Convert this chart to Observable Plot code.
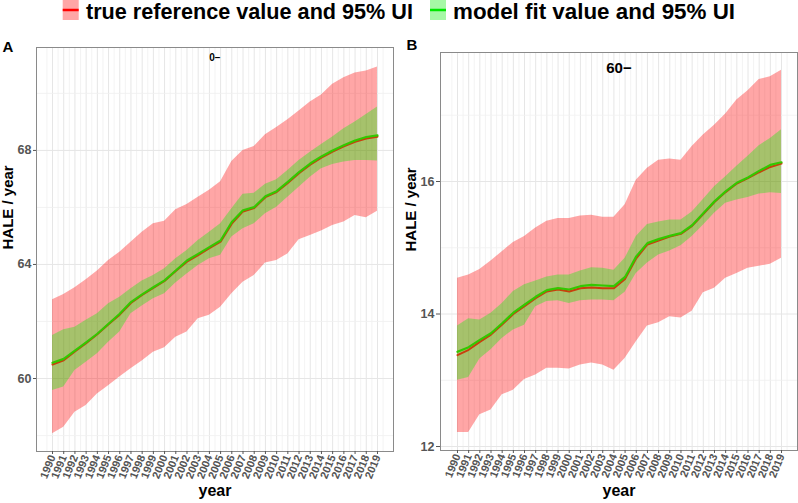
<!DOCTYPE html>
<html>
<head>
<meta charset="utf-8">
<script src="https://cdn.jsdelivr.net/npm/d3@7"></script>
<script src="https://cdn.jsdelivr.net/npm/@observablehq/plot@0.6"></script>
<style>
  html, body { margin: 0; padding: 0; background: white; }
  #wrap { position: relative; width: 798px; height: 503px; overflow: hidden; font-family: "Liberation Sans", Arial, sans-serif; }
  #legend { position: absolute; left: 0; top: 0; }
  #pa { position: absolute; left: 0; top: 30px; }
  #pb { position: absolute; left: 400px; top: 30px; }
</style>
</head>
<body>
<div id="wrap">
  <svg id="legend" width="798" height="30"></svg>
  <div id="pa"></div>
  <div id="pb"></div>
</div>
<script>
const years = [1990,1991,1992,1993,1994,1995,1996,1997,1998,1999,2000,2001,2002,2003,2004,2005,2006,2007,2008,2009,2010,2011,2012,2013,2014,2015,2016,2017,2018,2019];

// Panel A: age group "0−"
const refUpperA = [62.76,62.95,63.18,63.46,63.77,64.14,64.43,64.78,65.13,65.43,65.52,65.92,66.10,66.36,66.60,66.90,67.61,68.00,68.14,68.55,68.80,69.08,69.38,69.70,69.94,70.32,70.55,70.72,70.79,70.93];
const refLowerA = [58.06,58.29,58.82,59.05,59.46,59.75,60.05,60.34,60.61,60.92,61.08,61.45,61.63,62.10,62.22,62.50,62.97,63.38,63.61,64.05,64.14,64.37,64.87,65.02,65.17,65.37,65.49,65.72,65.64,65.87];
const refMeanA  = [60.49,60.64,60.95,61.24,61.55,61.90,62.24,62.65,62.93,63.18,63.42,63.77,64.10,64.33,64.57,64.80,65.43,65.86,65.98,66.36,66.54,66.86,67.20,67.50,67.75,67.96,68.14,68.30,68.42,68.48];
const fitUpperA = [61.51,61.71,61.80,62.04,62.27,62.62,62.85,63.15,63.42,63.61,63.85,64.20,64.49,64.84,65.13,65.43,65.95,66.46,66.50,66.81,66.97,67.30,67.65,67.94,68.21,68.47,68.76,69.00,69.26,69.52];
const fitLowerA = [59.58,59.70,60.28,60.57,60.87,61.27,61.63,62.27,62.54,62.80,62.97,63.35,63.67,63.96,64.20,64.32,64.96,65.25,65.43,65.78,66.01,66.36,66.71,67.06,67.36,67.51,67.59,67.65,67.65,67.63];
const fitMeanA  = [60.55,60.69,60.98,61.27,61.57,61.92,62.27,62.68,62.95,63.20,63.44,63.79,64.14,64.37,64.61,64.84,65.49,65.90,66.01,66.39,66.57,66.90,67.24,67.54,67.79,68.00,68.18,68.35,68.47,68.53];

// Panel B: age group "60−"
const refUpperB = [14.54,14.59,14.67,14.80,14.94,15.08,15.17,15.30,15.40,15.44,15.44,15.48,15.49,15.46,15.46,15.65,16.02,16.20,16.32,16.34,16.32,16.53,16.70,16.85,17.02,17.23,17.37,17.54,17.58,17.68];
const refLowerB = [12.21,12.21,12.48,12.55,12.78,12.85,13.01,13.08,13.18,13.18,13.17,13.23,13.26,13.23,13.15,13.33,13.58,13.82,13.87,13.96,13.94,14.04,14.32,14.39,14.54,14.61,14.69,14.72,14.75,14.84];
const refMeanB  = [13.38,13.46,13.58,13.69,13.84,14.00,14.12,14.24,14.34,14.37,14.34,14.39,14.40,14.39,14.39,14.53,14.84,15.05,15.11,15.17,15.21,15.33,15.51,15.69,15.84,15.97,16.05,16.14,16.22,16.27];
const fitUpperB = [13.82,13.93,13.91,14.01,14.16,14.34,14.44,14.50,14.56,14.59,14.59,14.65,14.70,14.69,14.66,14.84,15.17,15.35,15.39,15.42,15.42,15.54,15.73,15.92,16.07,16.23,16.38,16.54,16.65,16.78];
const fitLowerB = [13.00,13.04,13.32,13.46,13.63,13.76,13.83,14.11,14.19,14.20,14.16,14.20,14.21,14.21,14.20,14.33,14.61,14.77,14.89,14.95,15.03,15.17,15.34,15.52,15.67,15.72,15.76,15.81,15.83,15.82];
const fitMeanB  = [13.43,13.50,13.61,13.71,13.86,14.02,14.14,14.26,14.36,14.39,14.37,14.42,14.44,14.43,14.42,14.56,14.87,15.07,15.13,15.18,15.22,15.34,15.52,15.70,15.85,15.98,16.06,16.16,16.25,16.29];

const majorYA = [60, 64, 68];
const minorYA = [58, 62, 66, 70];
const majorYB = [12, 14, 16];
const minorYB = [13, 15, 17];

const legendItems = [
  {label: "true reference value and 95% UI", fill: "#ffa6a6", line: "#ff0000"},
  {label: "model fit value and 95% UI", fill: "#a6f8a6", line: "#00e600"}
];

function rowsOf(rl, ru, rm, fl, fu, fm) {
  return years.map((yr, i) => ({year: yr, refLo: rl[i], refHi: ru[i], refMean: rm[i], fitLo: fl[i], fitHi: fu[i], fitMean: fm[i]}));
}

const halfYears = years.slice(0, -1).map(y => y + 0.5).concat([1989.5, 2019.5]);

function panel(o) {
  return Plot.plot({
    width: o.width, height: 473,
    marginLeft: o.ml, marginRight: o.mr, marginTop: o.mt, marginBottom: o.mb,
    style: {fontFamily: "'Liberation Sans', Arial, sans-serif", background: "white", overflow: "visible"},
    x: {type: "linear", domain: o.xDomain},
    y: {type: "linear", domain: o.yDomain},
    marks: [
      Plot.ruleX(halfYears, {stroke: "#ebebeb", strokeWidth: 0.6}),
      Plot.ruleX(years, {stroke: "#e6e6e6", strokeWidth: 1}),
      Plot.ruleY(o.minorY, {stroke: "#f0f0f0", strokeWidth: 0.8}),
      Plot.ruleY(o.majorY, {stroke: "#e6e6e6", strokeWidth: 1}),
      Plot.areaY(o.rows, {x: "year", y1: "refLo", y2: "refHi", fill: "#ff0000", fillOpacity: 0.35}),
      Plot.areaY(o.rows, {x: "year", y1: "fitLo", y2: "fitHi", fill: "#00f500", fillOpacity: 0.35}),
      Plot.lineY(o.rows, {x: "year", y: "refMean", stroke: "#c8400c", strokeWidth: 2}),
      Plot.lineY(o.rows, {x: "year", y: "fitMean", stroke: "#33c800", strokeWidth: 2.2}),
      Plot.frame({stroke: "#8a8a8a", strokeWidth: 1}),
      Plot.axisX({ticks: years, tickFormat: d => String(d), tickRotate: -68, tickSize: 3, tickPadding: 1,
        fontSize: 11, fontWeight: "bold", color: "#555", label: null}),
      Plot.axisY({ticks: o.majorY, tickFormat: d => String(d), tickSize: o.yTickSize, tickPadding: 2,
        fontSize: 12.5, fontWeight: "bold", color: "#555", label: null}),
      Plot.text(["HALE / year"], {text: d => d, frameAnchor: "left", dx: o.yTitleDx, rotate: -90,
        fontSize: 15, fontWeight: "bold", fill: "black"}),
      Plot.text(["year"], {text: d => d, frameAnchor: "bottom", dy: o.xTitleDy,
        fontSize: 16, fontWeight: "bold", fill: "black"}),
      Plot.text([o.title], {text: d => d, frameAnchor: "top", dy: o.titleDy,
        fontSize: o.titleSize, fontWeight: "bold", fill: "black"}),
      Plot.text([o.letter], {text: d => d, frameAnchor: "top-left", dx: o.letterDx, dy: o.letterDy,
        textAnchor: "start", fontSize: 15, fontWeight: "bold", fill: "black"})
    ]
  });
}

const rowsA = rowsOf(refLowerA, refUpperA, refMeanA, fitLowerA, fitUpperA, fitMeanA);
const rowsB = rowsOf(refLowerB, refUpperB, refMeanB, fitLowerB, fitUpperB, fitMeanB);

document.getElementById("pa").appendChild(panel({
  rows: rowsA, width: 400, ml: 36, mr: 7, mt: 17, mb: 52,
  xDomain: [1988.57, 2020.43], yDomain: [57.44, 71.61],
  majorY: majorYA, minorY: minorYA, yTickSize: 3,
  yTitleDx: -28, xTitleDy: 44, title: "0\u2212", titleSize: 10, titleDy: 6,
  letter: "A", letterDx: -34, letterDy: -6.5
}));

document.getElementById("pb").appendChild(panel({
  rows: rowsB, width: 398, ml: 40, mr: 1, mt: 22, mb: 53,
  xDomain: [1988.48, 2020.43], yDomain: [11.94, 17.947],
  majorY: majorYB, minorY: minorYB, yTickSize: 4,
  yTitleDx: -29, xTitleDy: 45, title: "60\u2212", titleSize: 15, titleDy: 10,
  letter: "B", letterDx: -34, letterDy: -13
}));

// Legend
const lg = d3.select("#legend");
const keyX = [62.7, 430];
const textX = [86, 453];
const textLen = [327, 282];
legendItems.forEach((it, i) => {
  lg.append("rect").attr("x", keyX[i]).attr("y", 0).attr("width", 16).attr("height", 20).attr("fill", it.fill);
  lg.append("line").attr("x1", keyX[i]).attr("x2", keyX[i] + 16).attr("y1", 10).attr("y2", 10)
    .attr("stroke", it.line).attr("stroke-width", 2.5);
  lg.append("text").attr("x", textX[i]).attr("y", 18.5).attr("font-size", 22).attr("font-weight", "bold")
    .attr("font-family", "'Liberation Sans', Arial, sans-serif")
    .attr("textLength", textLen[i]).attr("lengthAdjust", "spacingAndGlyphs")
    .text(it.label);
});
</script>
</body>
</html>
